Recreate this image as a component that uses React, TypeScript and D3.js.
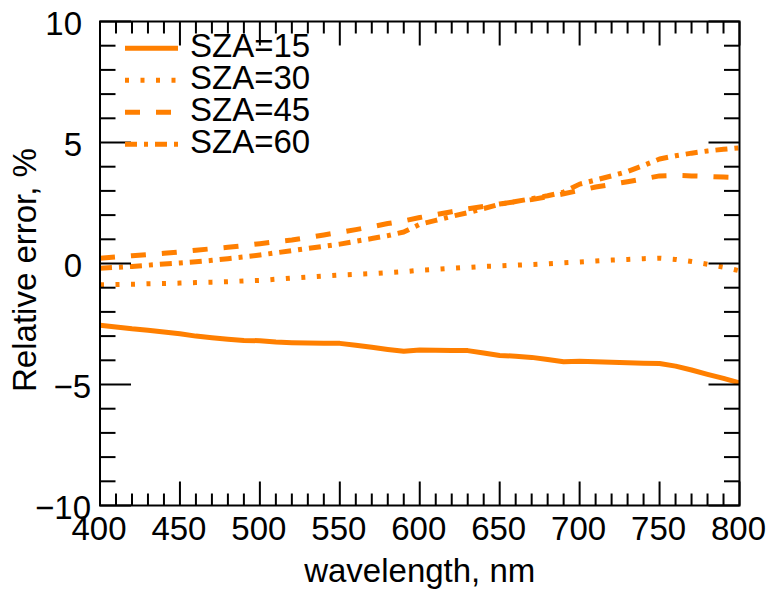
import React, { useRef, useEffect } from "react";
import * as d3 from "d3";

// wavelength grid, nm
const wavelengths = [
  400, 410, 420, 430, 440, 450, 460, 470, 480, 490, 500, 510, 520, 530, 540,
  550, 560, 570, 580, 590, 600, 610, 620, 630, 640, 650, 660, 670, 680, 690,
  700, 710, 720, 730, 740, 750, 760, 770, 780, 790, 800,
];

// relative error, %
const sza15 = [
  -2.55, -2.62, -2.7, -2.76, -2.83, -2.9, -3.0, -3.07, -3.13, -3.18, -3.19,
  -3.24, -3.27, -3.29, -3.3, -3.3, -3.38, -3.46, -3.55, -3.63, -3.57, -3.58,
  -3.59, -3.6, -3.7, -3.8, -3.83, -3.88, -3.97, -4.06, -4.04, -4.06, -4.08,
  -4.1, -4.12, -4.13, -4.24, -4.4, -4.58, -4.75, -4.93,
];
const sza30 = [
  -0.88, -0.87, -0.86, -0.84, -0.83, -0.81, -0.79, -0.77, -0.75, -0.72, -0.7,
  -0.65, -0.6, -0.56, -0.52, -0.48, -0.45, -0.42, -0.38, -0.34, -0.28, -0.24,
  -0.2, -0.16, -0.12, -0.1, -0.07, -0.04, -0.01, 0.03, 0.06, 0.1, 0.14, 0.17,
  0.2, 0.22, 0.17, 0.08, -0.03, -0.15, -0.3,
];
const sza45 = [
  0.22, 0.27, 0.32, 0.37, 0.42, 0.48, 0.55, 0.61, 0.67, 0.74, 0.82, 0.9, 0.97,
  1.07, 1.18, 1.29, 1.4, 1.52, 1.65, 1.76, 1.9, 2.02, 2.14, 2.26, 2.36, 2.46,
  2.55, 2.64, 2.76, 2.88, 3.02, 3.16, 3.27, 3.38, 3.5, 3.62, 3.64, 3.62, 3.6,
  3.57, 3.55,
];
const sza60 = [
  -0.2, -0.16, -0.12, -0.07, -0.02, 0.02, 0.07, 0.13, 0.2, 0.27, 0.35, 0.44,
  0.53, 0.62, 0.71, 0.8, 0.92, 1.03, 1.15, 1.3, 1.62, 1.78, 1.95, 2.1, 2.27,
  2.45, 2.56, 2.68, 2.8, 2.95, 3.28, 3.45, 3.62, 3.8, 4.05, 4.32, 4.45, 4.56,
  4.65, 4.72, 4.78,
];

const seriesNames = ["SZA=15", "SZA=30", "SZA=45", "SZA=60"];
const seriesValues = [sza15, sza30, sza45, sza60];
const dashes = [null, "4,11.5", "15,16", "12,7,4,7"];

const xTickLabels = [400, 450, 500, 550, 600, 650, 700, 750, 800];
const yTickLabels = [-10, -5, 0, 5, 10];

const App = () => {
  const svgRef = useRef(null);

  useEffect(() => {
    const svg = d3.select(svgRef.current);
    svg.selectAll("*").remove();
    const width = 770;
    const height = 590;
    const margin = { top: 21.5, right: 30.5, bottom: 84.5, left: 100 };
    const color = "#ff7f00";
    const font = "Liberation Sans, Arial, Helvetica, sans-serif";

    svg.attr("width", width).attr("height", height);

    const x = d3
      .scaleLinear()
      .domain([400, 800])
      .range([margin.left, width - margin.right]);

    const y = d3
      .scaleLinear()
      .domain([-10, 10])
      .range([height - margin.bottom, margin.top]);

    const x0 = x(400), x1 = x(800), y0 = y(-10), y1 = y(10);

    // data lines
    const line = d3
      .line()
      .x((d) => x(d[0]))
      .y((d) => y(d[1]));

    const plot = svg.append("g");
    seriesValues.forEach((vals, i) => {
      plot
        .append("path")
        .datum(wavelengths.map((w, j) => [w, vals[j]]))
        .attr("d", line)
        .attr("fill", "none")
        .attr("stroke", color)
        .attr("stroke-width", 5)
        .attr("stroke-dasharray", dashes[i])
        .attr("stroke-linejoin", "round");
    });

    // frame + ticks (inward, mirrored on top/right)
    const axes = svg.append("g").attr("stroke", "black").attr("stroke-width", 2);
    axes
      .append("rect")
      .attr("x", x0)
      .attr("y", y1)
      .attr("width", x1 - x0)
      .attr("height", y0 - y1)
      .attr("fill", "none");

    d3.range(400, 801, 10).forEach((w) => {
      const len = w % 50 === 0 ? 24 : 12;
      axes.append("line").attr("x1", x(w)).attr("x2", x(w)).attr("y1", y0).attr("y2", y0 - len);
      axes.append("line").attr("x1", x(w)).attr("x2", x(w)).attr("y1", y1).attr("y2", y1 + len);
    });
    d3.range(-10, 11, 1).forEach((v) => {
      const len = v % 5 === 0 ? 31 : 15.5;
      axes.append("line").attr("x1", x0).attr("x2", x0 + len).attr("y1", y(v)).attr("y2", y(v));
      axes.append("line").attr("x1", x1).attr("x2", x1 - len).attr("y1", y(v)).attr("y2", y(v));
    });

    // tick labels
    const labels = svg.append("g").style("font-family", font).style("font-size", "33px");
    labels
      .selectAll(".xl")
      .data(xTickLabels)
      .enter()
      .append("text")
      .attr("x", (d) => x(d) - 1)
      .attr("y", y0 + 34)
      .attr("text-anchor", "middle")
      .text((d) => d);

    labels
      .selectAll(".yl")
      .data(yTickLabels)
      .enter()
      .append("text")
      .attr("x", (d) => (d < 0 ? 91 : 82))
      .attr("y", (d) => y(d) + 13)
      .attr("text-anchor", "end")
      .text((d) => (d < 0 ? "\u2212" + Math.abs(d) : d));

    // axis titles
    labels
      .append("text")
      .attr("x", (x0 + x1) / 2)
      .attr("y", 582)
      .attr("text-anchor", "middle")
      .text("wavelength, nm");

    labels
      .append("text")
      .attr("transform", `translate(36,270) rotate(-90)`)
      .attr("text-anchor", "middle")
      .text("Relative error, %");

    // legend
    const legend = svg.append("g");
    seriesNames.forEach((name, i) => {
      const ly = 48.3 + i * 32;
      legend
        .append("line")
        .attr("x1", 125)
        .attr("x2", 178)
        .attr("y1", ly)
        .attr("y2", ly)
        .attr("stroke", color)
        .attr("stroke-width", 5)
        .attr("stroke-dasharray", dashes[i]);
      legend
        .append("text")
        .attr("x", 190)
        .attr("y", ly + 9)
        .style("font-family", font)
        .style("font-size", "33px")
        .text(name);
    });
  }, []);

  return (
    <div>
      <svg ref={svgRef} style={{ position: "absolute", left: 0, top: 0, background: "white" }}></svg>
    </div>
  );
};

export default App;
